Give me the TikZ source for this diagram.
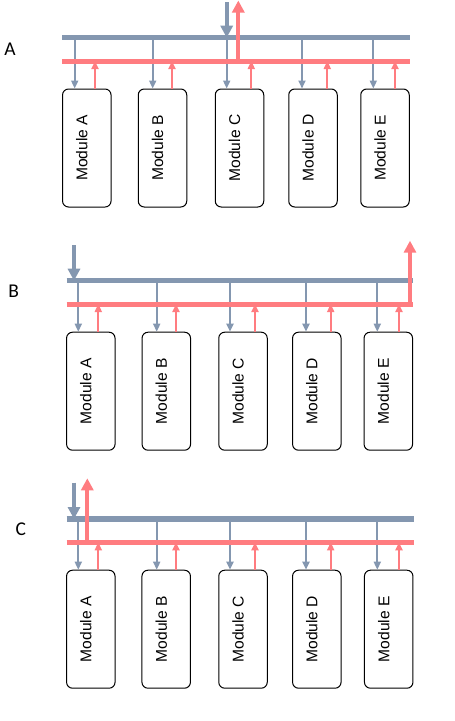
\documentclass[tikz,border=0pt]{standalone}
\usepackage{fontspec}
\setmainfont{Carlito}
\newfontfamily\modfont{Liberation Sans}
\usetikzlibrary{arrows.meta,calc}
\definecolor{busblue}{HTML}{8497B0}
\definecolor{busred}{HTML}{FF7C80}
\begin{document}
\begin{tikzpicture}[x=1pt,y=-1pt,
  modbox/.style={draw=black,line width=1pt,rounded corners=6pt,minimum width=48.5pt,minimum height=118pt,inner sep=0pt},
  modtext/.style={rotate=90,font=\modfont\fontsize{15.6}{18}\selectfont,inner sep=0pt},
  paneltag/.style={font=\fontsize{19.5}{23}\selectfont,inner sep=0pt},
  bluebus/.style={draw=busblue,line width=5.5pt},
  redbus/.style={draw=busred,line width=5pt},
  bluedown/.style={draw=busblue,line width=1.8pt,-{Triangle[width=7pt,length=8pt]}},
  redup/.style={draw=busred,line width=1.8pt,-{Triangle[width=7pt,length=8pt]}},
  bluein/.style={draw=busblue,line width=4pt,-{Triangle[width=12pt,length=12pt]}},
  redout/.style={draw=busred,line width=4pt,-{Triangle[width=12pt,length=12pt]}},
]
\useasboundingbox[fill=white] (0,0) rectangle (455,721);

% ---------------- Panel A ----------------
\node[paneltag] (tagA) at (10,49) {A};
\coordinate (Abl) at (62,37.7);   \coordinate (Abr) at (410,37.7);
\coordinate (Arl) at (62,61);     \coordinate (Arr) at (410,61);
\draw[bluebus] (Abl) -- (Abr);
\foreach \n/\cx/\bx in {A/86.8/74.7, B/162.5/152.7, C/239.5/226.7, D/313/302, E/385/373.3}{
  \node[modbox] (A\n) at (\cx,148) {};
  \node[modtext] (A\n-t) at ([xshift=-5pt]A\n.center) {Module \n};
  \coordinate (A\n-b) at (\bx,37.7);
  \draw[bluedown] (A\n-b) -- (A\n-b |- A\n.north);
}
\draw[redbus] (Arl) -- (Arr);
\foreach \n/\rx in {A/95, B/172, C/251.3, D/327.3, E/395}{
  \coordinate (A\n-r) at (\rx,61);
  \draw[redup] (A\n-r |- A\n.north) -- (A\n-r);
}
\coordinate (Ain) at (226.7,2);
\draw[bluein] (Ain) -- (Ain |- Abl);
\coordinate (Aout) at (238.3,0.5);
\draw[redout] (Aout |- Arl) -- (Aout);

% ---------------- Panel B ----------------
\node[paneltag] (tagB) at (13.8,291.5) {B};
\coordinate (Bbl) at (66.7,280.7); \coordinate (Bbr) at (413,280.7);
\coordinate (Brl) at (66.7,304);   \coordinate (Brr) at (413,304);
\draw[bluebus] (Bbl) -- (Bbr);
\foreach \n/\cx/\bx in {A/90.8/78.3, B/166.3/156.7, C/243/230, D/316.8/306, E/388.3/377.3}{
  \node[modbox] (B\n) at (\cx,391.2) {};
  \node[modtext] (B\n-t) at ([xshift=-5pt]B\n.center) {Module \n};
  \coordinate (B\n-b) at (\bx,280.7);
  \draw[bluedown] (B\n-b) -- (B\n-b |- B\n.north);
}
\draw[redbus] (Brl) -- (Brr);
\foreach \n/\rx in {A/98.3, B/176, C/255, D/330.7, E/399}{
  \coordinate (B\n-r) at (\rx,304);
  \draw[redup] (B\n-r |- B\n.north) -- (B\n-r);
}
\coordinate (Bin) at (74,245);
\draw[bluein] (Bin) -- (Bin |- Bbl);
\coordinate (Bout) at (410,240.7);
\draw[redout] (Bout |- Brl) -- (Bout);

% ---------------- Panel C ----------------
\node[paneltag] (tagC) at (20.8,529.5) {C};
\coordinate (Cbl) at (66.7,519);   \coordinate (Cbr) at (414,519);
\coordinate (Crl) at (66.7,542.3); \coordinate (Crr) at (414,542.3);
\draw[bluebus] (Cbl) -- (Cbr);
\foreach \n/\cx/\bx in {A/90.8/78.3, B/166.2/156.7, C/243/230, D/316.8/306, E/388.7/377.3}{
  \node[modbox] (C\n) at (\cx,629.2) {};
  \node[modtext] (C\n-t) at ([xshift=-5pt]C\n.center) {Module \n};
  \coordinate (C\n-b) at (\bx,519);
  \draw[bluedown] (C\n-b) -- (C\n-b |- C\n.north);
}
\draw[redbus] (Crl) -- (Crr);
\foreach \n/\rx in {A/98.3, B/176, C/255, D/330.7, E/399}{
  \coordinate (C\n-r) at (\rx,542.3);
  \draw[redup] (C\n-r |- C\n.north) -- (C\n-r);
}
\coordinate (Cin) at (74,482.7);
\draw[bluein] (Cin) -- (Cin |- Cbl);
\coordinate (Cout) at (87.3,478.3);
\draw[redout] (Cout |- Crl) -- (Cout);
\end{tikzpicture}
\end{document}
